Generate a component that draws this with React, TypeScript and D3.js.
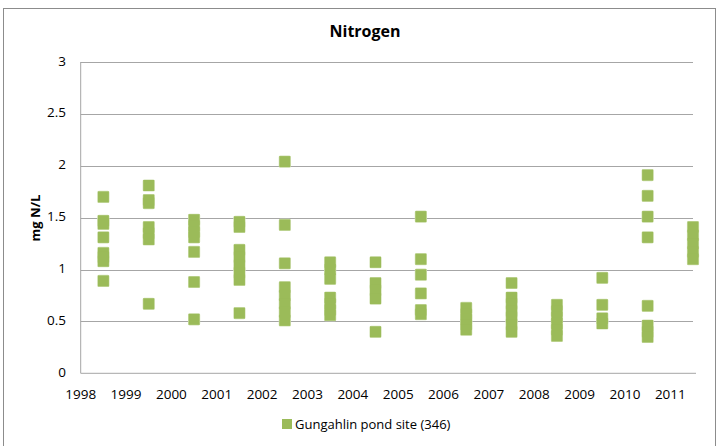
import React from "react";
import * as d3 from "d3";

const chartTitle = "Nitrogen";
const yAxisTitle = "mg N/L";
const legendLabel = "Gungahlin pond site (346)";
const yearTicks = [1998, 1999, 2000, 2001, 2002, 2003, 2004, 2005, 2006, 2007, 2008, 2009, 2010, 2011];
const valueTicks = [0, 0.5, 1, 1.5, 2, 2.5, 3];
const sampleYears = [1998.5, 1999.5, 2000.5, 2001.5, 2002.5, 2003.5, 2004.5, 2005.5, 2006.5, 2007.5, 2008.5, 2009.5, 2010.5, 2011.5];
const nitrogenByYear = [
  [1.7, 1.47, 1.44, 1.31, 1.16, 1.12, 1.08, 0.89],
  [1.81, 1.67, 1.64, 1.41, 1.35, 1.29, 0.67],
  [1.48, 1.42, 1.36, 1.31, 1.17, 0.88, 0.52],
  [1.46, 1.41, 1.19, 1.12, 1.04, 0.97, 0.9, 0.58],
  [2.04, 1.43, 1.06, 0.83, 0.75, 0.67, 0.59, 0.51],
  [1.07, 1.0, 0.91, 0.73, 0.67, 0.61, 0.56],
  [1.07, 0.87, 0.8, 0.72, 0.4],
  [1.51, 1.1, 0.95, 0.77, 0.61, 0.57],
  [0.63, 0.57, 0.52, 0.47, 0.42],
  [0.87, 0.73, 0.67, 0.6, 0.54, 0.47, 0.4],
  [0.66, 0.6, 0.54, 0.48, 0.42, 0.36],
  [0.92, 0.66, 0.53, 0.48],
  [1.91, 1.71, 1.51, 1.31, 0.65, 0.46, 0.4, 0.35],
  [1.41, 1.33, 1.25, 1.17, 1.1],
];

const W = 718;
const H = 446;
const left = 80.7;
const right = 693;
const top = 62;
const bottom = 373.3;
const font = "'Open Sans', 'Noto Sans', sans-serif";
const green = "#9BBB59";

export default function App() {
  const x = d3.scaleLinear().domain([1998, 2011.5]).range([left, right]);
  const y = d3.scaleLinear().domain([0, 3]).range([bottom, top]);
  const points: { x: number; v: number }[] = [];
  sampleYears.forEach((yr, i) => nitrogenByYear[i].forEach((v) => points.push({ x: yr, v })));
  const ms = 11;

  return (
    <svg
      width={W}
      height={H}
      style={{ position: "absolute", left: 0, top: 0, background: "#fff" }}
      fontFamily={font}
    >
      <rect x={3.5} y={8.5} width={712} height={460} fill="#fff" stroke="#8c8c8c" strokeWidth={1} />
      <text x={365} y={37} textAnchor="middle" fontSize={16} fontWeight="bold" fill="#000">
        {chartTitle}
      </text>
      {valueTicks.map((t) => (
        <g key={t}>
          {t > 0 && (
            <line x1={left} x2={right} y1={Math.round(y(t)) + 0.5} y2={Math.round(y(t)) + 0.5} stroke="#a6a6a6" strokeWidth={1} />
          )}
          <text x={66} y={y(t)} textAnchor="end" dominantBaseline="middle" fontSize={13.5} fill="#000">
            {t}
          </text>
        </g>
      ))}
      <line x1={left} x2={left} y1={top} y2={bottom} stroke="#a6a6a6" strokeWidth={1} />
      <line x1={left} x2={right + 3} y1={bottom} y2={bottom} stroke="#a6a6a6" strokeWidth={1} />
      {yearTicks.map((t) => (
        <text key={t} x={x(t)} y={399} textAnchor="middle" fontSize={13.5} fill="#000">
          {t}
        </text>
      ))}
      <text
        transform={`translate(40, 218) rotate(-90)`}
        textAnchor="middle"
        fontSize={13}
        fontWeight="bold"
        fill="#000"
      >
        {yAxisTitle}
      </text>
      <g>
        {points.map((p, i) => (
          <rect
            key={"s" + i}
            x={x(p.x) - ms / 2}
            y={y(p.v) - ms / 2}
            width={ms}
            height={ms}
            rx={1}
            fill="#c9dba6"
            stroke="#d3e2b6"
            strokeWidth={1.2}
          />
        ))}
        {points.map((p, i) => (
          <rect
            key={"f" + i}
            x={x(p.x) - ms / 2}
            y={y(p.v) - ms / 2}
            width={ms}
            height={ms}
            fill={green}
          />
        ))}
      </g>
      <rect x={282} y={419} width={10} height={10} fill={green} />
      <text x={295} y={429} fontSize={13} fill="#000">
        {legendLabel}
      </text>
    </svg>
  );
}
